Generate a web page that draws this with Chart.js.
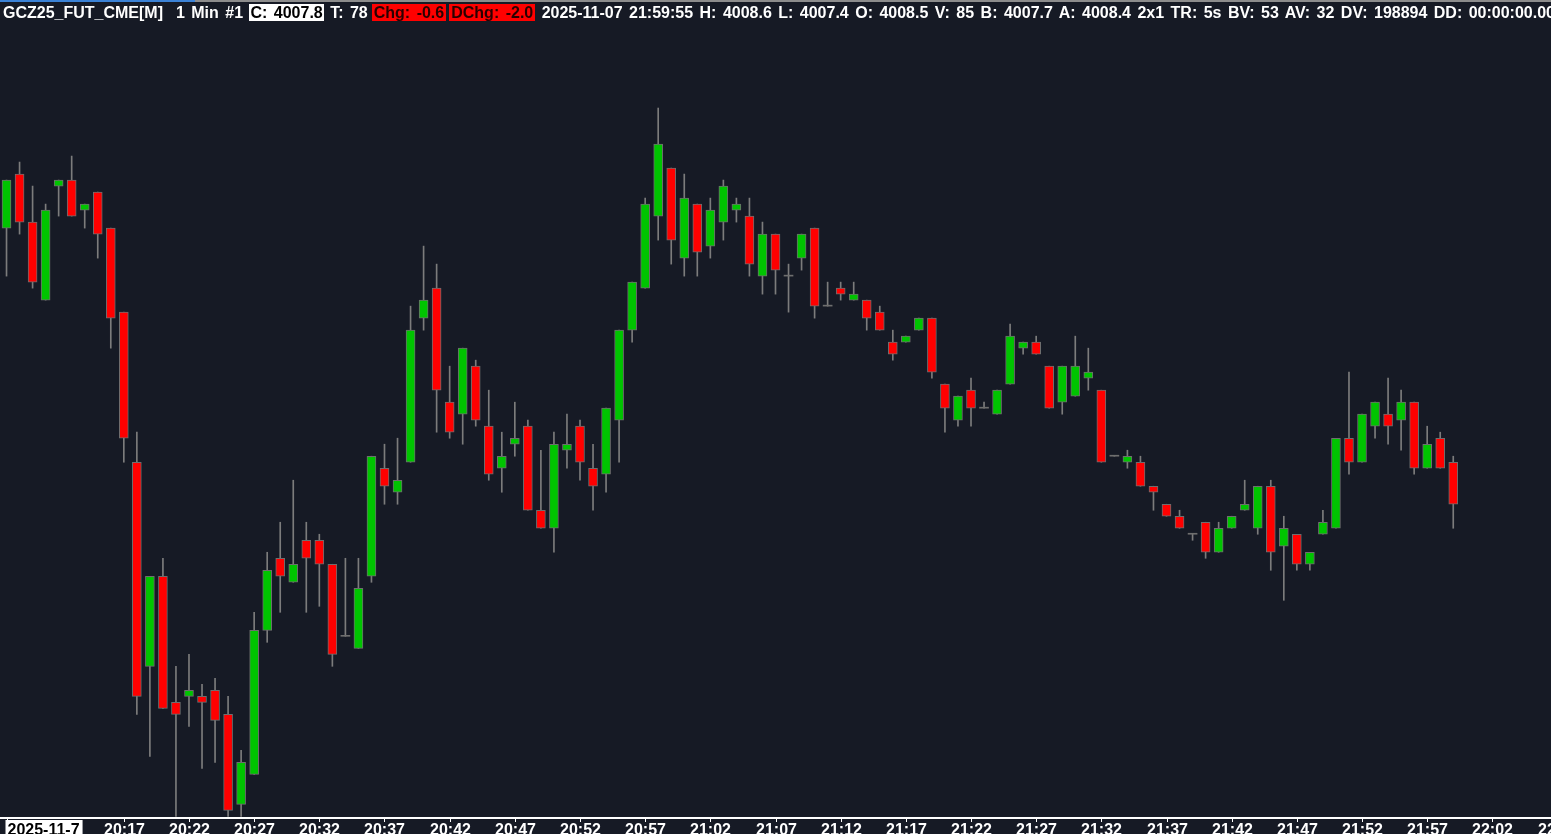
<!DOCTYPE html>
<html>
<head>
<meta charset="utf-8">
<title>GCZ25_FUT_CME 1 Min</title>
<script src="https://cdn.jsdelivr.net/npm/chart.js@4.4.1/dist/chart.umd.min.js"></script>
<style>
  html, body { margin: 0; padding: 0; background: #161a25; overflow: hidden; }
  #wrap { position: relative; width: 1551px; height: 834px; }
  #topline { position: absolute; left: 0; top: 0; width: 1551px; height: 2px; background: #8c8c8c; }
  #sel { position: absolute; left: 0; top: 0; width: 195px; height: 2px; background: #3b82d6; }
  #info { position: absolute; left: 3px; top: 4px; z-index: 2; white-space: pre; color: #fff;
          font: bold 16px "Liberation Sans", Arial, sans-serif; line-height: 18px; word-spacing: 2px; }
  #info .w { background: #fff; color: #000; padding: 0 1px; }
  #info .r { background: #ff0000; color: #2a0000; padding: 0 2px; }
  #info .gap { margin-left: 3px; }
  #info .gap4 { margin-left: 4px; }
  canvas { position: absolute; left: 0; top: 0; }
</style>
</head>
<body>
<div id="wrap">
  <canvas id="myChart" width="1551" height="834"></canvas>
  <div id="topline"></div>
  <div id="sel"></div>
  <div id="info"></div>
</div>
<script>
// 1 minute candles, 20:08 -> 21:59
var opens = [4012.4, 4013.3, 4012.5, 4011.2, 4013.1, 4013.2, 4012.7, 4013.0, 4012.4, 4011.0,
  4008.5, 4005.1, 4006.6, 4004.5, 4004.6, 4004.6, 4004.7, 4004.3, 4002.8, 4003.3,
  4005.7, 4006.9, 4006.5, 4007.2, 4007.2, 4006.8, 4005.6, 4005.4, 4006.6, 4008.4,
  4008.0, 4008.5, 4010.9, 4011.4, 4009.5, 4009.3, 4010.1, 4009.1, 4008.4, 4008.8,
  4009.1, 4007.7, 4007.4, 4008.7, 4009.1, 4008.4, 4008.3, 4009.2, 4010.7, 4011.4,
  4012.6, 4013.4, 4011.9, 4012.8, 4012.1, 4012.5, 4012.7, 4012.6, 4011.6, 4012.3,
  4011.6, 4011.9, 4012.4, 4011.1, 4011.4, 4011.2, 4011.2, 4011.0, 4010.5, 4010.5,
  4010.7, 4010.9, 4009.8, 4009.2, 4009.7, 4009.4, 4009.3, 4009.8, 4010.4, 4010.5,
  4010.1, 4009.5, 4009.6, 4009.9, 4009.7, 4008.6, 4008.5, 4008.5, 4008.1, 4007.8,
  4007.6, 4007.3, 4007.5, 4007.0, 4007.4, 4007.7, 4007.4, 4008.1, 4007.1, 4007.3,
  4006.8, 4007.3, 4007.4, 4008.9, 4008.5, 4009.1, 4009.3, 4009.2, 4009.5, 4008.4,
  4008.9, 4008.5];
var highs = [4013.2, 4013.5, 4013.1, 4012.8, 4013.2, 4013.6, 4012.8, 4013.0, 4012.4, 4011.0,
  4009.0, 4006.6, 4006.9, 4005.1, 4005.3, 4004.8, 4004.9, 4004.6, 4003.7, 4006.0,
  4007.0, 4007.5, 4008.2, 4007.5, 4007.3, 4006.8, 4006.9, 4006.9, 4008.6, 4008.8,
  4008.9, 4011.1, 4012.1, 4011.8, 4010.1, 4010.4, 4010.2, 4009.7, 4009.0, 4009.5,
  4009.2, 4008.7, 4009.0, 4009.3, 4009.2, 4008.8, 4009.4, 4010.7, 4011.5, 4012.9,
  4014.4, 4013.4, 4013.3, 4012.8, 4012.9, 4013.2, 4012.9, 4012.9, 4012.5, 4012.3,
  4011.8, 4012.3, 4012.4, 4011.5, 4011.5, 4011.5, 4011.2, 4011.1, 4010.7, 4010.6,
  4010.9, 4010.9, 4009.8, 4009.6, 4009.9, 4009.5, 4009.7, 4010.8, 4010.5, 4010.6,
  4010.1, 4010.1, 4010.6, 4010.4, 4009.7, 4008.6, 4008.7, 4008.6, 4008.1, 4007.8,
  4007.7, 4007.3, 4007.5, 4007.5, 4007.6, 4008.2, 4008.1, 4008.2, 4007.6, 4007.3,
  4007.0, 4007.7, 4008.9, 4010.0, 4009.3, 4009.5, 4009.9, 4009.7, 4009.5, 4009.1,
  4009.0, 4008.6];
var lows = [4011.6, 4012.3, 4011.4, 4011.2, 4012.6, 4012.6, 4012.4, 4011.9, 4010.4, 4008.5,
  4004.3, 4003.6, 4004.4, 4002.6, 4004.1, 4003.4, 4003.5, 4002.6, 4002.6, 4003.3,
  4005.5, 4006.0, 4006.5, 4006.0, 4006.1, 4005.1, 4005.6, 4005.4, 4006.5, 4007.8,
  4007.8, 4008.5, 4010.7, 4009.0, 4008.9, 4008.8, 4009.1, 4008.2, 4008.0, 4008.6,
  4007.7, 4007.4, 4007.0, 4008.4, 4008.2, 4007.7, 4008.0, 4008.5, 4010.5, 4011.4,
  4012.2, 4011.8, 4011.6, 4011.6, 4011.9, 4012.2, 4012.5, 4011.6, 4011.3, 4011.3,
  4011.0, 4011.7, 4010.9, 4011.1, 4011.2, 4011.2, 4010.7, 4010.7, 4010.2, 4010.5,
  4010.7, 4009.9, 4009.0, 4009.1, 4009.1, 4009.4, 4009.3, 4009.8, 4010.3, 4010.3,
  4009.4, 4009.3, 4009.6, 4009.7, 4008.5, 4008.6, 4008.4, 4008.1, 4007.7, 4007.6,
  4007.4, 4007.2, 4006.9, 4007.0, 4007.4, 4007.7, 4007.3, 4006.7, 4006.2, 4006.7,
  4006.7, 4007.3, 4007.4, 4008.3, 4008.5, 4008.9, 4008.8, 4008.7, 4008.3, 4008.4,
  4008.4, 4007.4];
var closes = [4013.2, 4012.5, 4011.5, 4012.7, 4013.2, 4012.6, 4012.8, 4012.3, 4010.9, 4008.9,
  4004.6, 4006.6, 4004.4, 4004.3, 4004.7, 4004.5, 4004.2, 4002.7, 4003.5, 4005.7,
  4006.7, 4006.6, 4006.8, 4006.9, 4006.8, 4005.3, 4005.6, 4006.4, 4008.6, 4008.1,
  4008.2, 4010.7, 4011.2, 4009.7, 4009.0, 4010.4, 4009.2, 4008.3, 4008.6, 4008.9,
  4007.7, 4007.4, 4008.8, 4008.8, 4008.5, 4008.1, 4009.4, 4010.7, 4011.5, 4012.8,
  4013.8, 4012.2, 4012.9, 4012.0, 4012.7, 4013.1, 4012.8, 4011.8, 4012.3, 4011.7,
  4011.6, 4012.3, 4011.1, 4011.1, 4011.3, 4011.3, 4010.9, 4010.7, 4010.3, 4010.6,
  4010.9, 4010.0, 4009.4, 4009.6, 4009.4, 4009.4, 4009.7, 4010.6, 4010.5, 4010.3,
  4009.4, 4010.1, 4010.1, 4010.0, 4008.5, 4008.6, 4008.6, 4008.1, 4008.0, 4007.6,
  4007.4, 4007.3, 4007.0, 4007.4, 4007.6, 4007.8, 4008.1, 4007.0, 4007.4, 4006.8,
  4007.0, 4007.5, 4008.9, 4008.5, 4009.3, 4009.5, 4009.1, 4009.5, 4008.4, 4008.8,
  4008.4, 4007.8];

// time axis: one slot per minute from 20:08, with a few empty slots on the right
var startMinute = 20 * 60 + 8;
var slotCount = 119;
var minutes = [];
for (var m = 0; m < slotCount; m++) {
  var t = startMinute + m;
  minutes.push(Math.floor(t / 60) + ':' + String(t % 60).padStart(2, '0'));
}

var tickLabels = ['2025-11-7', '20:17', '20:22', '20:27', '20:32', '20:37', '20:42', '20:47', '20:52',
  '20:57', '21:02', '21:07', '21:12', '21:17', '21:22', '21:27', '21:32', '21:37', '21:42',
  '21:47', '21:52', '21:57', '22:02', '22:07'];
var tickIndex = [0, 9, 14, 19, 24, 29, 34, 39, 44, 49, 54, 59, 64, 69, 74, 79, 84, 89, 94,
  99, 104, 109, 114, 119];

var upColor = '#00c400';
var downColor = '#ff0000';
var edgeColor = '#6e6e6e';

var last = closes.length - 1;
document.getElementById('info').innerHTML =
  '<span>GCZ25_FUT_CME[M]  1 Min #1 </span>' +
  '<span class="w">C: ' + closes[last].toFixed(1) + '</span>' +
  '<span> T: 78</span>' +
  '<span class="r gap4">Chg: -0.6</span><span class="r gap">DChg: -2.0</span>' +
  '<span> 2025-11-07 21:59:55 H: ' + highs[last].toFixed(1) + ' L: ' + lows[last].toFixed(1) +
  ' O: ' + opens[last].toFixed(1) + ' V: 85 B: 4007.7 A: 4008.4 2x1 TR: 5s BV: 53 AV: 32 DV: 198894 DD: 00:00:00.000</span>';

var wickData = highs.map(function (h, i) { return [lows[i], h]; });
var bodyData = opens.map(function (o, i) { return [o, closes[i]]; });

function bodyColor(ctx) {
  var i = ctx.dataIndex;
  if (closes[i] > opens[i]) return upColor;
  if (closes[i] < opens[i]) return downColor;
  return edgeColor;
}

// axis line, tick marks and time labels along the bottom
var timeAxis = {
  id: 'timeAxis',
  afterDraw: function (chart) {
    var ctx = chart.ctx;
    var xs = chart.scales.x;
    var y0 = chart.chartArea.bottom;
    ctx.save();
    ctx.strokeStyle = '#ffffff';
    ctx.lineWidth = 2;
    ctx.beginPath();
    ctx.moveTo(0, y0 + 1);
    ctx.lineTo(chart.width, y0 + 1);
    ctx.stroke();
    ctx.lineWidth = 1;
    ctx.font = 'bold 16px "Liberation Sans", Arial, sans-serif';
    ctx.textBaseline = 'alphabetic';
    tickIndex.forEach(function (idx, k) {
      var px = Math.round(xs.getPixelForValue(idx)) + 0.5;
      ctx.strokeStyle = '#ffffff';
      ctx.beginPath();
      ctx.moveTo(px, y0 + 1);
      ctx.lineTo(px, y0 + 5);
      ctx.stroke();
      if (k === 0) {
        var w = ctx.measureText(tickLabels[k]).width;
        ctx.fillStyle = '#ffffff';
        ctx.fillRect(px - 2, y0 + 3, w + 5, 20);
        ctx.fillStyle = '#000000';
        ctx.textAlign = 'left';
        ctx.fillText(tickLabels[k], px, y0 + 18);
      } else {
        ctx.fillStyle = '#ffffff';
        ctx.textAlign = 'center';
        ctx.fillText(tickLabels[k], px, y0 + 18);
      }
    });
    ctx.restore();
  }
};

var ctx = document.getElementById('myChart').getContext('2d');
var chart = new Chart(ctx, {
  type: 'bar',
  data: {
    labels: minutes,
    datasets: [
      {
        label: 'wick',
        data: wickData,
        grouped: false,
        order: 2,
        barThickness: 1,
        backgroundColor: '#7c7c7c',
        borderWidth: 0
      },
      {
        label: 'body',
        data: bodyData,
        grouped: false,
        order: 1,
        barThickness: 9,
        minBarLength: 1,
        backgroundColor: bodyColor,
        borderColor: edgeColor,
        borderWidth: function (c) { return opens[c.dataIndex] === closes[c.dataIndex] ? 0 : 1; },
        borderSkipped: false
      }
    ]
  },
  options: {
    responsive: false,
    animation: false,
    events: [],
    layout: { padding: { left: 0, right: 0, top: 30, bottom: 17 } },
    plugins: {
      legend: { display: false },
      tooltip: { enabled: false },
      title: { display: false }
    },
    scales: {
      x: { display: false, offset: true },
      y: { display: false, min: 4002.59, max: 4015.7 }
    }
  },
  plugins: [timeAxis]
});
</script>
</body>
</html>
